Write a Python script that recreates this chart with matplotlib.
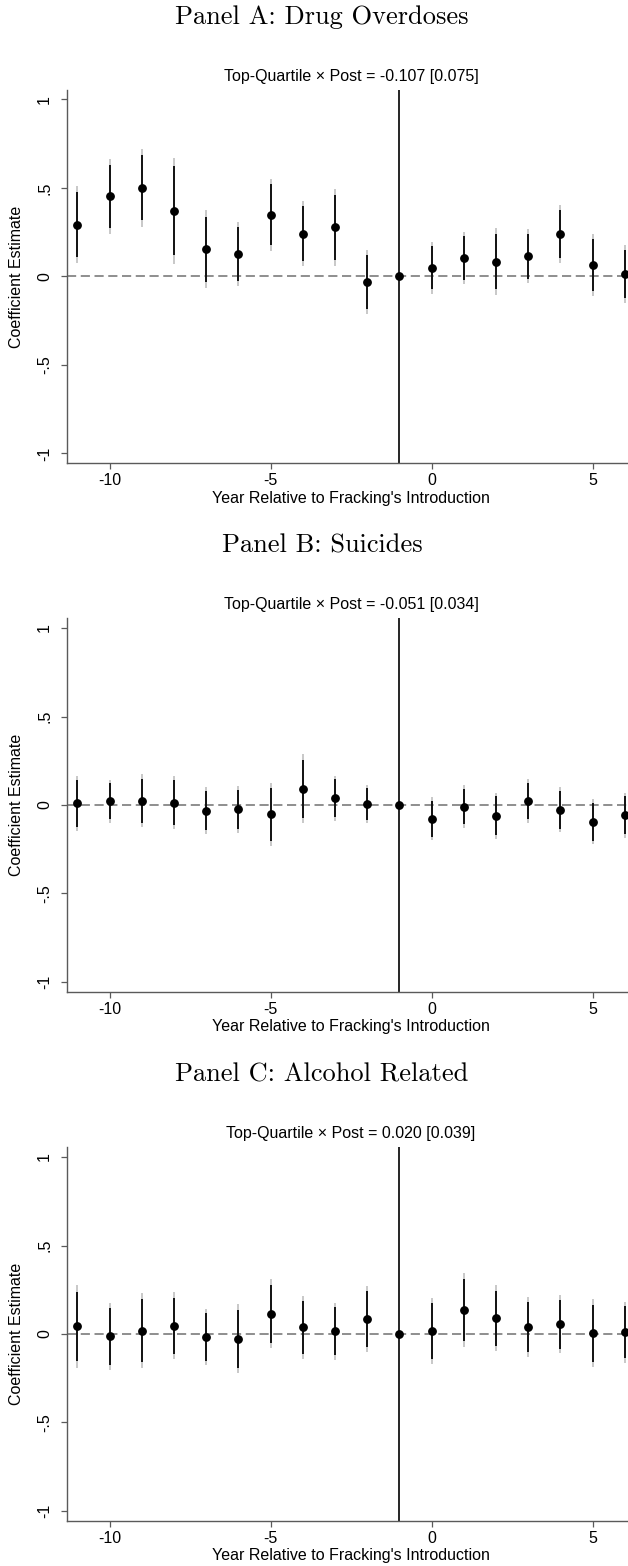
import matplotlib
matplotlib.use("Agg")
import matplotlib.pyplot as plt

plt.rcParams["font.family"] = ["Liberation Sans", "DejaVu Sans"]
plt.rcParams["axes.unicode_minus"] = False

# Event time relative to the introduction of fracking
years = list(range(-11, 7))
xticks = [-10, -5, 0, 5]
yticks = [-1, -0.5, 0, 0.5, 1]
ytick_labels = ["-1", "-.5", "0", ".5", "1"]

# Panel A: drug overdoses
overdose_coef = [0.293, 0.452, 0.501, 0.370, 0.153, 0.127, 0.349, 0.242, 0.278,
                 -0.032, 0.0, 0.048, 0.104, 0.084, 0.114, 0.238, 0.063, 0.015]
overdose_se = [0.112, 0.107, 0.1125, 0.153, 0.1125, 0.0916, 0.1036, 0.094, 0.111,
               0.092, 0.0, 0.074, 0.075, 0.0957, 0.078, 0.083, 0.090, 0.083]

# Panel B: suicides
suicide_coef = [0.009, 0.021, 0.025, 0.013, -0.032, -0.025, -0.053, 0.091, 0.038,
                0.006, 0.0, -0.079, -0.009, -0.060, 0.023, -0.026, -0.094, -0.057]
suicide_se = [0.0795, 0.0617, 0.0757, 0.077, 0.068, 0.0675, 0.090, 0.0996, 0.0645,
              0.055, 0.0, 0.062, 0.0615, 0.066, 0.063, 0.065, 0.065, 0.065]

# Panel C: alcohol related
alcohol_coef = [0.043, -0.013, 0.018, 0.046, -0.017, -0.027, 0.115, 0.038, 0.015,
                0.085, 0.0, 0.017, 0.136, 0.089, 0.038, 0.055, 0.004, 0.011]
alcohol_se = [0.1186, 0.0974, 0.108, 0.0965, 0.081, 0.0998, 0.0995, 0.0913, 0.082,
              0.0957, 0.0, 0.0964, 0.106, 0.0946, 0.0865, 0.0834, 0.0975, 0.088]

panel_titles = ["Panel A: Drug Overdoses", "Panel B: Suicides", "Panel C: Alcohol Related"]
pooled_labels = ["Top-Quartile \u00d7 Post = -0.107 [0.075]",
                 "Top-Quartile \u00d7 Post = -0.051 [0.034]",
                 "Top-Quartile \u00d7 Post = 0.020 [0.039]"]
xlabel = "Year Relative to Fracking's Introduction"
ylabel = "Coefficient Estimate"
event_year = -1

Z90, Z95 = 1.645, 1.96

W, H = 628, 1566
fig = plt.figure(figsize=(W / 100, H / 100), dpi=100)

# axes tops in pixels (from the top of the figure)
axes_tops = [89.5, 618.1, 1147.1]
ax_h = 373.8
ax_left = 66.7
ax_w = 568.7

series = [(overdose_coef, overdose_se), (suicide_coef, suicide_se), (alcohol_coef, alcohol_se)]
axis_col = "#5a5a5a"
fs = 11.5

for top, (coef, se), title, pooled in zip(axes_tops, series, panel_titles, pooled_labels):
    ax = fig.add_axes([ax_left / W, (H - top - ax_h) / H, ax_w / W, ax_h / H])
    lo95 = [c - Z95 * s for c, s in zip(coef, se)]
    hi95 = [c + Z95 * s for c, s in zip(coef, se)]
    lo90 = [c - Z90 * s for c, s in zip(coef, se)]
    hi90 = [c + Z90 * s for c, s in zip(coef, se)]

    ax.axhline(0, color="#707070", lw=1.1, ls=(0, (6.0, 3.0)), zorder=1)
    ax.axvline(event_year, color="black", lw=1.2, zorder=2)
    ax.vlines(years, lo95, hi95, color="#c4c4c4", lw=1.3, zorder=3)
    ax.vlines(years, lo90, hi90, color="#111111", lw=1.4, zorder=4)
    ax.plot(years, coef, "o", color="black", ms=5.3, zorder=5)

    ax.set_xlim(-11.33, 6.33)
    ax.set_ylim(-1.056, 1.056)
    ax.set_xticks(xticks)
    ax.set_xticklabels([str(t) for t in xticks], fontsize=fs)
    ax.set_yticks(yticks)
    ax.set_yticklabels(ytick_labels, fontsize=fs, rotation=90, va="center")
    for s in ("top", "right"):
        ax.spines[s].set_visible(False)
    for s in ("left", "bottom"):
        ax.spines[s].set_color(axis_col)
        ax.spines[s].set_linewidth(1.0)
    ax.tick_params(axis="both", colors=axis_col, labelcolor="black", length=4.5, width=0.9)
    ax.tick_params(axis="y", pad=6)
    ax.tick_params(axis="x", pad=2.5)

    fig.text(351 / W, 1 - (top - 13.5) / H, pooled, ha="center", va="center", fontsize=fs)
    fig.text(322 / W, 1 - (top - 72.5) / H, title, ha="center", va="center",
             fontsize=19, family="cmr10")
    fig.text(351 / W, 1 - (top + ax_h + 35) / H, xlabel, ha="center", va="center", fontsize=fs)
    fig.text(17 / W, 1 - (top + ax_h / 2) / H, ylabel, ha="center", va="center",
             rotation=90, fontsize=fs)

fig.savefig("out.png", dpi=100, facecolor="white")
